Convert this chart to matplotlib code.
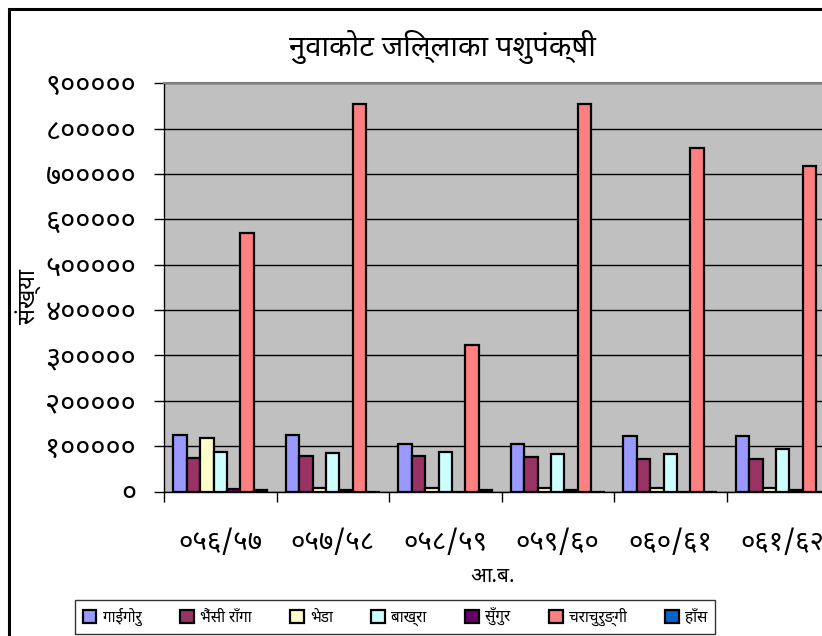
import numpy as np
import matplotlib
matplotlib.use("Agg")
import matplotlib.pyplot as plt
from matplotlib import font_manager
from matplotlib.ft2font import FT2Font
from matplotlib.patches import Rectangle

# ---------------- data ----------------
years = ["०५६/५७", "०५७/५८", "०५८/५९", "०५९/६०", "०६०/६१", "०६१/६२"]
series_names = ["गाईगोरु", "भैंसी राँगा", "भेडा", "बाख्रा", "सुँगुर", "चराचुरुङ्गी", "हाँस"]
cattle  = [125000, 125000, 104000, 104000, 123000, 123000]
buffalo = [74000, 78000, 78000, 77000, 72000, 72000]
sheep   = [119000, 7000, 7000, 8000, 7000, 7000]
goat    = [88000, 84000, 88000, 83000, 83000, 93000]
pig     = [5000, 3000, 0, 3000, 0, 3000]
poultry = [570000, 855000, 323000, 855000, 758000, 717000]
duck    = [4000, 0, 3000, 0, 0, 0]
ytick_values = [0, 100000, 200000, 300000, 400000, 500000, 600000, 700000, 800000, 900000]
ytick_labels = ["०", "१०००००", "२०००००", "३०००००", "४०००००", "५०००००",
                "६०००००", "७०००००", "८०००००", "९०००००"]
title_text = "नुवाकोट जिल्लाका पशुपंक्षी"
xlabel_text = "आ.ब."
ylabel_text = "संख्या"

series_values = [cattle, buffalo, sheep, goat, pig, poultry, duck]
colors = ["#9999FF", "#993366", "#FFFFCC", "#CCFFFF", "#660066", "#FF8080", "#0066CC"]

# ---------------- fonts ----------------
def find_font(ch):
    preferred = ["Noto Sans Devanagari", "Lohit Devanagari", "FreeSans", "Mukta",
                 "Noto Serif Devanagari", "Kalimati", "Mangal"]
    found = []
    seen = set()
    for f in font_manager.fontManager.ttflist:
        if f.fname in seen:
            continue
        seen.add(f.fname)
        try:
            ft = FT2Font(f.fname)
            if ord(ch) in ft.get_charmap():
                found.append(f.name)
        except Exception:
            pass
    for p in preferred:
        if p in found:
            return p
    return found[0] if found else None

deva = find_font("न")
fam = [deva, "DejaVu Sans"] if deva else ["DejaVu Sans"]
plt.rcParams["font.family"] = fam

# ---------------- figure ----------------
W, H = 822, 636
fig = plt.figure(figsize=(W / 100, H / 100), dpi=100)
fig.patch.set_facecolor("white")

left_px, right_px, top_px, bot_px = 164, 839, 83.3, 491.5
ax = fig.add_axes([left_px / W, 1 - bot_px / H, (right_px - left_px) / W, (bot_px - top_px) / H])
ax.set_facecolor("#C0C0C0")

n_cat = len(years)
n_ser = len(series_values)
bw = 0.119
x = np.arange(n_cat)
for i, (vals, c, name) in enumerate(zip(series_values, colors, series_names)):
    off = (i - (n_ser - 1) / 2) * bw
    ax.bar(x + off, vals, width=bw, color=c, edgecolor="black", linewidth=1.6,
           label=name, zorder=3)

ax.set_xlim(-0.5, n_cat - 0.5)
ax.set_ylim(0, 900000)
ax.set_yticks(ytick_values)
ax.set_yticklabels(ytick_labels, fontsize=21)
ax.set_xticks(x)
ax.set_xticklabels(years, fontsize=20)
ax.tick_params(axis="x", which="major", length=0, pad=27)
ax.set_xticks(np.arange(n_cat + 1) - 0.5, minor=True)
ax.tick_params(axis="x", which="minor", length=7, width=1, color="black", direction="out")
ax.tick_params(axis="y", length=7, width=1, color="black", direction="out", pad=13)
ax.yaxis.grid(True, color="black", linewidth=1.0, zorder=1)
ax.set_axisbelow(True)

for s in ["top", "right"]:
    ax.spines[s].set_color("#808080")
    ax.spines[s].set_linewidth(1.5)
ax.spines["left"].set_color("black")
ax.spines["bottom"].set_color("black")
ax.spines["left"].set_linewidth(1.0)
ax.spines["bottom"].set_linewidth(1.0)

ax.set_xlabel(xlabel_text, fontsize=15, fontweight="bold")
ax.xaxis.set_label_coords((493 - left_px) / (right_px - left_px), -(566 - bot_px) / (bot_px - top_px))
ax.set_ylabel(ylabel_text, fontsize=17, fontweight="bold")
ax.yaxis.set_label_coords(-(164 - 42) / (right_px - left_px), (bot_px - 297) / (bot_px - top_px))

fig.text(442 / W, 1 - 47 / H, title_text, fontsize=21, fontweight="bold",
         ha="center", va="center")

# chart border
fig.patches.append(Rectangle((9 / W, -0.2), 1.2, 1.2 - 9 / H, transform=fig.transFigure,
                             fill=False, edgecolor="black", linewidth=2.2, clip_on=False))

leg = fig.legend(loc="upper left", bbox_to_anchor=(75 / W, 1 - 600 / H - 0.05, 640 / W, 0.05),
                 mode="expand", ncol=7, fontsize=11, frameon=True, fancybox=False,
                 edgecolor="black", handlelength=0.9, handleheight=0.9,
                 handletextpad=0.4, columnspacing=0.8, borderaxespad=0, borderpad=0.5)
leg.get_frame().set_linewidth(1.0)

fig.savefig("out.png", dpi=100)
